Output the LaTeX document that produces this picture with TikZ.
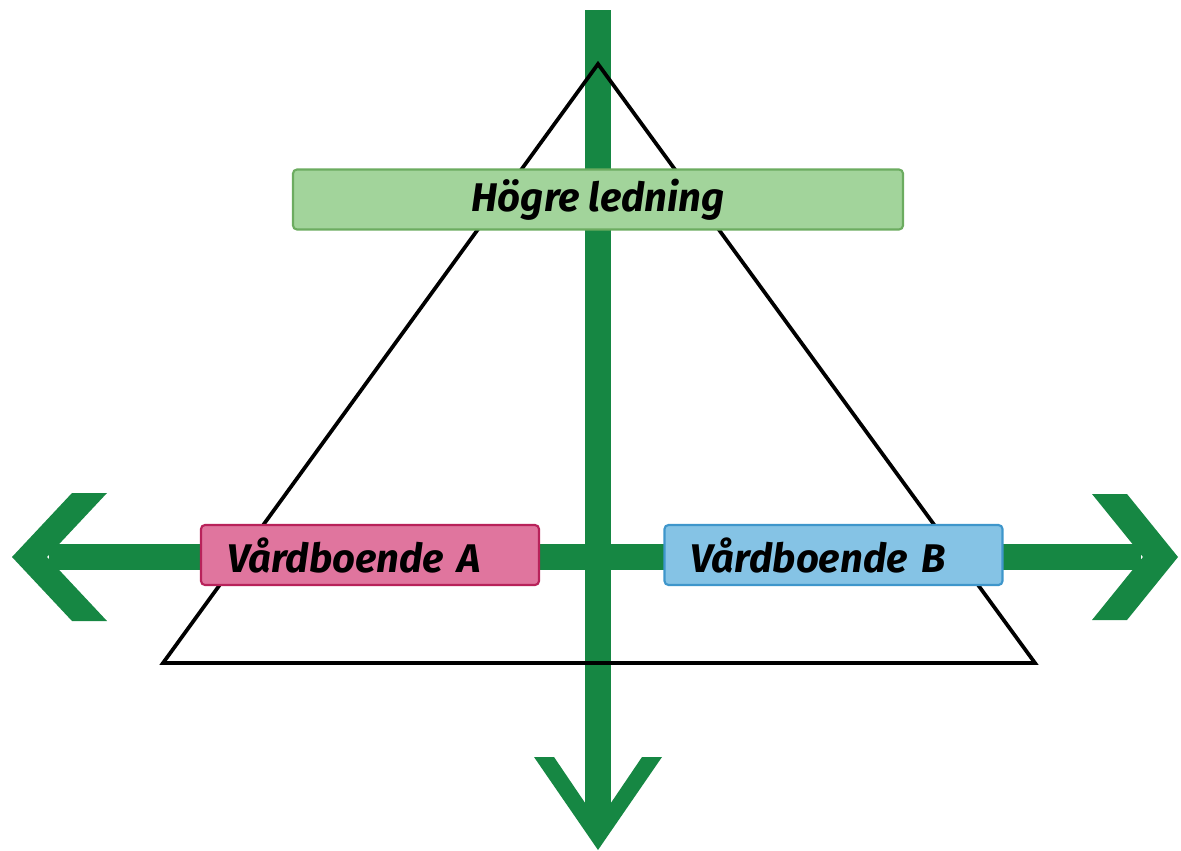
\documentclass[tikz,border=0pt]{standalone}
\usepackage{fontspec}
\setmainfont{Fira Sans}
\begin{document}
\begin{tikzpicture}[x=0.75pt,y=-0.75pt,
  bar/.style={draw=arrgreen,line width=20pt},
  head/.style={fill=arrgreen},
  tri/.style={draw=black,line width=2.8pt,line join=miter},
  boxbase/.style={line width=1.6pt,rounded corners=3pt,minimum height=45pt,inner ysep=0pt,
     font=\fontsize{30}{34}\selectfont\bfseries\itshape},
  topbox/.style={boxbase,draw=topdraw,fill=topfill,minimum width=457.5pt},
  sidebox/.style={boxbase,text width=214.5pt,align=left,inner xsep=19.5pt}]
\definecolor{arrgreen}{RGB}{22,135,67}
\definecolor{topfill}{RGB}{162,212,155}
\definecolor{topdraw}{RGB}{108,172,96}
\definecolor{afill}{RGB}{224,117,158}
\definecolor{adraw}{RGB}{184,34,90}
\definecolor{bfill}{RGB}{133,195,229}
\definecolor{bdraw}{RGB}{62,150,203}
\useasboundingbox (0,0) rectangle (1181,850);
% connector end points
\coordinate (vtop) at (598,10);
\coordinate (vbot) at (598,822);
\coordinate (hleft) at (49,557);
\coordinate (hright) at (1141,557);
% green bars
\draw[bar] (vtop) -- (vbot);
\draw[bar] (hleft) -- (hright);
% arrow heads
\fill[head] (12,557) -- (72,493) -- (107,493) -- (47,557) -- (107,621) -- (72,621) -- cycle;
\fill[head] (1178,557) -- (1127,494) -- (1092,494) -- (1143,557) -- (1092,620) -- (1127,620) -- cycle;
\fill[head] (598,850) -- (534,757) -- (554,757) -- (598,822) -- (642,757) -- (662,757) -- cycle;
% triangle
\coordinate (apex) at (598,64);
\coordinate (bl) at (163,663);
\coordinate (br) at (1035,663);
\draw[tri] (apex) -- (br) -- (bl) -- cycle;
% boxes
\node[topbox] (top) at (598,199.5) {Högre ledning};
\node[sidebox,draw=adraw,fill=afill] (va) at (370,555) {Vårdboende A};
\node[sidebox,draw=bdraw,fill=bfill] (vb) at (833.5,555) {Vårdboende B};
\end{tikzpicture}
\end{document}
